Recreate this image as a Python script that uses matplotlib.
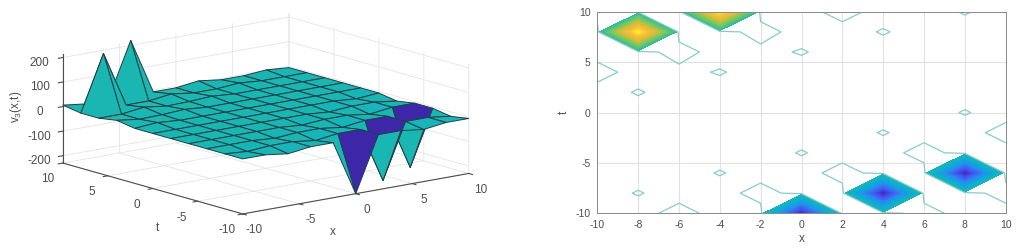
import matplotlib
matplotlib.use("Agg")
import matplotlib.pyplot as plt
import numpy as np
from matplotlib.colors import LinearSegmentedColormap, Normalize

plt.rcParams['font.family'] = ['Liberation Sans', 'DejaVu Sans']
plt.rcParams['mathtext.default'] = 'regular'
plt.rcParams['axes.unicode_minus'] = False

x = [-10, -8, -6, -4, -2, 0, 2, 4, 6, 8, 10]
t = [-10, -8, -6, -4, -2, 0, 2, 4, 6, 8, 10]
# rows are t from -10 up to 10, columns are x
v3 = [
    [-6, -6, -18, -6, -6, -230, -6, -6, -18, -6, -6],
    [-6, -13, -6, -6, -18, -6, -6, -230, -6, -6, -18],
    [-6, -6, -6, -13, -6, -6, -18, -6, -6, -230, -6],
    [-6, -6, -6, -6, -6, -13, -6, -6, -18, -6, -6],
    [-6, -6, -6, -6, -6, -6, -6, -13, -6, -6, -18],
    [-6, -6, -6, -6, -6, -6, -6, -6, -6, -13, -6],
    [-6, 1.2, -6, -6, -6, -6, -6, -6, -6, -6, -6],
    [6, -6, -4, 1.2, -6, -6, -6, -6, -6, -6, -6],
    [-6, -6, 6, -6, -4, 1.2, -6, -6, -6, -6, -6],
    [-6, 220, -6, -6, 6, -6, -6, 1.2, -6, -6, -6],
    [6, -6, -6, 220, -6, -6, 6, -6, -6, 1.2, -6],
]
t_ticks = [-10, -5, 0, 5, 10]
v_ticks = [-200, -100, 0, 100, 200]
x_ticks2 = [-10, -8, -6, -4, -2, 0, 2, 4, 6, 8, 10]

parula = LinearSegmentedColormap.from_list("parula", [
    (0.24, 0.15, 0.66), (0.28, 0.32, 0.96), (0.15, 0.55, 0.93), (0.05, 0.68, 0.83),
    (0.11, 0.72, 0.68), (0.40, 0.78, 0.42), (0.80, 0.75, 0.22), (0.99, 0.74, 0.24),
    (0.98, 0.98, 0.08)])
norm = Normalize(-230, 230)
gray = '#4d4d4d'

X, T = np.meshgrid(x, t)
Z = np.array(v3, dtype=float)

W, H = 1021, 250
fig = plt.figure(figsize=(W / 100, H / 100), dpi=100)

# left: surface
ax = fig.add_axes([-3 / W, 8 / H, 0.52, 1.0], projection='3d', proj_type='ortho')
ax.view_init(elev=13, azim=-128.5)
ax.set_box_aspect((291, 291, 113), zoom=1.645)
surf = ax.plot_surface(X, T, Z, facecolors=parula(norm(Z)), shade=False, edgecolor='#1f3f4a',
                       linewidth=0.7, rstride=1, cstride=1, antialiased=True)
surf.set_clip_on(False)
ax.set_xlim(-10, 10)
ax.set_ylim(-10, 10)
ax.set_zlim(-230, 215)
ax.set_xticks(t_ticks)
ax.set_yticks(t_ticks)
ax.set_zticks(v_ticks)
ax.tick_params(axis='x', labelsize=8.5, colors=gray, pad=-2)
ax.tick_params(axis='y', labelsize=8.5, colors=gray, pad=-1.5)
ax.tick_params(axis='z', labelsize=8.5, colors=gray, pad=-2.6)
for a in (ax.xaxis, ax.yaxis, ax.zaxis):
    a.set_pane_color((1, 1, 1, 0))
    a.pane.set_edgecolor('#dddddd')
    a._axinfo['grid'].update(color='#e4e4e4', linewidth=0.6)
    a._axinfo['tick'].update(inward_factor=0.25, outward_factor=0.0)
    a.line.set_color(gray)
    a.line.set_linewidth(0.8)
fig.text(333 / W, 1 - 232 / H, 'x', fontsize=8.5, color=gray, ha='center', va='center')
fig.text(157 / W, 1 - 228 / H, 't', fontsize=8.5, color=gray, ha='center', va='center')
fig.text(16 / W, 1 - 107 / H, 'v$_3$(x,t)', fontsize=8.5, color=gray, rotation=90, ha='center', va='center')

# right: contour
ax2 = fig.add_axes([597.3 / W, 1 - 213.3 / H, 408.4 / W, 201.6 / H])
up = np.linspace(8, 220, 60)
down = np.linspace(-230, -20, 60)
ax2.contourf(X, T, Z, levels=up, cmap=parula, norm=norm)
ax2.contourf(X, T, Z, levels=down, cmap=parula, norm=norm)
ax2.contour(X, T, Z, levels=[-12, 0], colors='#86cdc8', linewidths=0.9, linestyles='solid')
ax2.set_xlim(-10, 10)
ax2.set_ylim(-10, 10)
ax2.set_xticks(x_ticks2)
ax2.set_yticks(t_ticks)
ax2.grid(True, color='#e2e2e2', linewidth=0.8)
ax2.set_axisbelow(True)
ax2.tick_params(labelsize=7.5, colors=gray, length=0, pad=5)
for s in ax2.spines.values():
    s.set_color('#8a8a8a')
    s.set_linewidth(0.7)
ax2.set_xlabel('x', fontsize=8.5, color=gray, labelpad=2)
ax2.set_ylabel('t', fontsize=8.5, color=gray, labelpad=4)

fig.savefig('out.png', dpi=100)
